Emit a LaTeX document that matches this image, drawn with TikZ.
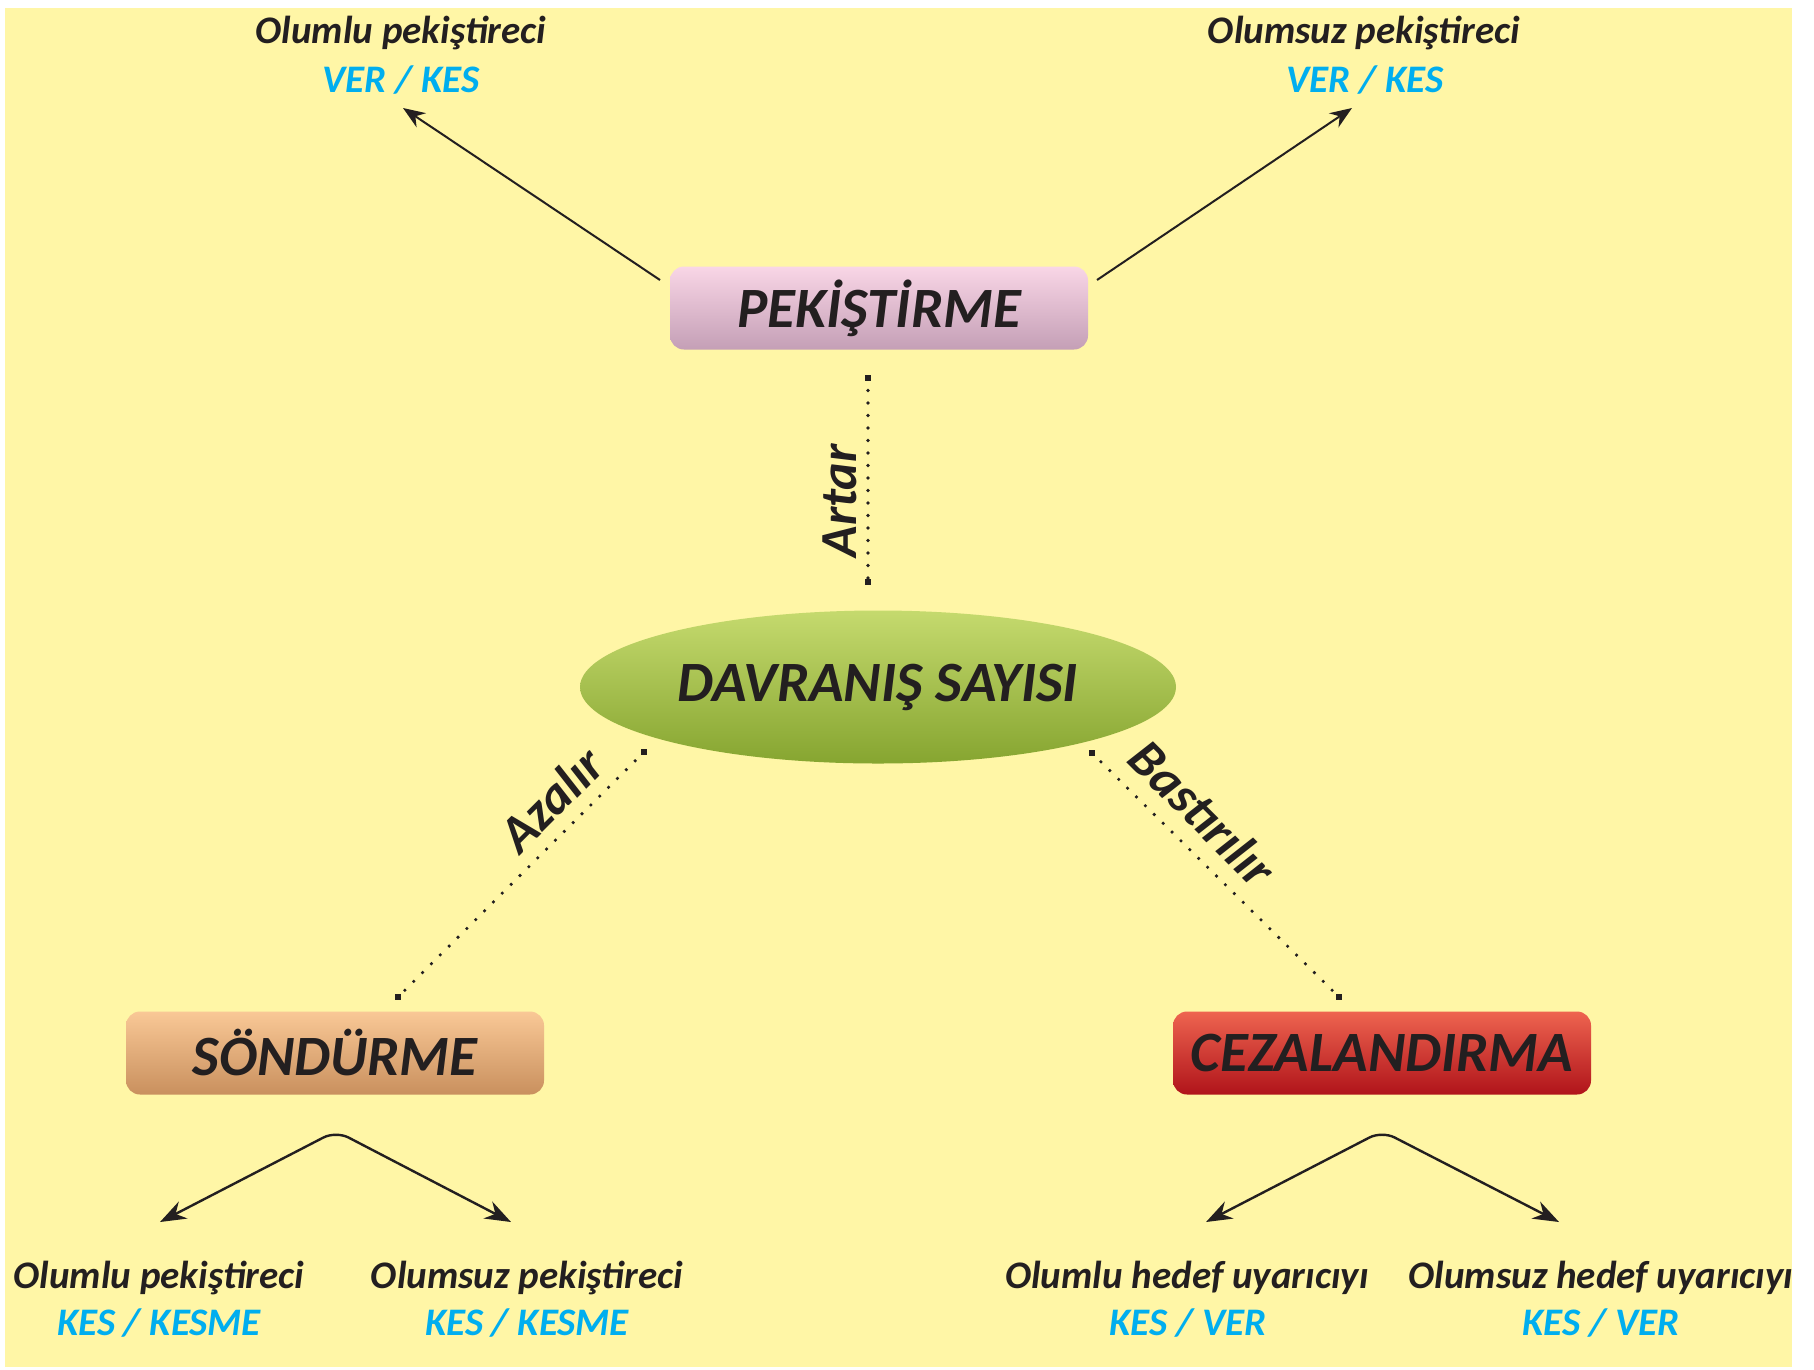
\documentclass[tikz,border=0pt]{standalone}
\usepackage{fontspec}
\setmainfont{Carlito}
\usetikzlibrary{arrows.meta,shapes.geometric}
\definecolor{bgc}{HTML}{FFF6A6}
\definecolor{txt}{HTML}{231F20}
\definecolor{cyn}{HTML}{00AEEF}
\definecolor{pinkT}{HTML}{F9D6E6}
\definecolor{pinkM}{HTML}{EBC3D6}
\definecolor{pinkB}{HTML}{C49FB6}
\definecolor{peachT}{HTML}{F9C896}
\definecolor{peachM}{HTML}{EDB37E}
\definecolor{peachB}{HTML}{C9905E}
\definecolor{redT}{HTML}{EE6450}
\definecolor{redM}{HTML}{E21D26}
\definecolor{redB}{HTML}{B0141A}
\definecolor{grnT}{HTML}{C5DA6E}
\definecolor{grnM}{HTML}{AED23C}
\definecolor{grnB}{HTML}{86A530}
\tikzset{
  boxnode/.style={rounded corners=14pt, minimum width=418pt, minimum height=83pt, inner sep=0pt,
    text=txt, font=\fontsize{57}{62}\selectfont\bfseries\itshape},
  smalltxt/.style={text=txt, font=\fontsize{39}{43}\selectfont\bfseries\itshape, inner sep=0pt, anchor=base},
  bluetxt/.style={text=cyn, font=\fontsize{39}{43}\selectfont\bfseries\itshape, inner sep=0pt, anchor=base},
  rotlabel/.style={text=txt, font=\fontsize{52}{56}\selectfont\bfseries\itshape, inner sep=0pt},
  arr/.style={draw=txt, line width=2pt, -{Stealth[length=22pt,width=17pt]}},
  twoarr/.style={draw=txt, line width=2.4pt, rounded corners=14pt,
    {Stealth[length=26pt,width=19pt]}-{Stealth[length=26pt,width=19pt]}},
  dotline/.style={draw=txt, line width=3.6pt, line cap=round, dash pattern=on 0pt off 12.5pt},
  enddot/.style={fill=txt, minimum size=6pt, inner sep=0pt}
}
\begin{document}
\begin{tikzpicture}[x=1pt,y=-1pt]
\useasboundingbox (0,0) rectangle (1814,1369);
\fill[white] (0,0) rectangle (1814,1369);
\begin{scope}
\clip (5,8) rectangle (1792,1367);
\fill[bgc] (5,8) rectangle (1792,1367);

% main nodes
\node[boxnode, top color=pinkT, middle color=pinkM, bottom color=pinkB] (pek) at (879,308) {PEKİŞTİRME};
\node[boxnode, top color=peachT, middle color=peachM, bottom color=peachB] (son) at (335,1053) {SÖNDÜRME};
\node[boxnode, top color=redT, middle color=redM, bottom color=redB] (cez) at (1382,1053) {CEZALANDIRMA};
\node[ellipse, minimum width=596pt, minimum height=153pt, inner sep=0pt, top color=grnT, middle color=grnM, bottom color=grnB,
  text=txt, font=\fontsize{57}{62}\selectfont\bfseries\itshape] (dav) at (878,687) {DAVRANIŞ SAYISI};

% top labels
\node[smalltxt] (tl1) at (401,43) {Olumlu pekiştireci};
\node[bluetxt] (tl2) at (401,92) {VER / KES};
\node[smalltxt] (tr1) at (1364,43) {Olumsuz pekiştireci};
\node[bluetxt] (tr2) at (1365,92) {VER / KES};

% bottom labels
\node[smalltxt] (bl1) at (159,1288) {Olumlu pekiştireci};
\node[bluetxt] (bl2) at (159,1335) {KES / KESME};
\node[smalltxt] (bm1) at (527,1288) {Olumsuz pekiştireci};
\node[bluetxt] (bm2) at (527,1335) {KES / KESME};
\node[smalltxt] (br1) at (1187,1288) {Olumlu hedef uyarıcıyı};
\node[bluetxt] (br2) at (1188,1335) {KES / VER};
\node[smalltxt] (bz1) at (1601,1288) {Olumsuz hedef uyarıcıyı};
\node[bluetxt] (bz2) at (1601,1335) {KES / VER};

% top arrows
\coordinate (pekL) at (660,280);
\coordinate (pekR) at (1097,280);
\coordinate (tipL) at (403,108);
\coordinate (tipR) at (1352,108);
\draw[arr] (pekL) -- (tipL);
\draw[arr] (pekR) -- (tipR);

% bottom forks
\coordinate (sA) at (336,1131);
\coordinate (sL) at (160,1222);
\coordinate (sR) at (511,1222);
\draw[twoarr] (sL) -- (sA) -- (sR);
\coordinate (cA) at (1382,1131);
\coordinate (cL) at (1206,1222);
\coordinate (cR) at (1559,1222);
\draw[twoarr] (cL) -- (cA) -- (cR);

% dotted links
\coordinate (artTop) at (868,378);
\coordinate (artBot) at (868,582);
\draw[dotline] (artTop) -- (artBot);
\node[enddot] at (artTop) {};
\node[enddot] at (artBot) {};
\node[rotlabel, rotate=90] (artar) at (840,501) {Artar};

\coordinate (azTop) at (644,752);
\coordinate (azBot) at (398,997);
\draw[dotline] (azTop) -- (azBot);
\node[enddot] at (azTop) {};
\node[enddot] at (azBot) {};
\node[rotlabel, rotate=45] (azalir) at (551,799) {Azalır};

\coordinate (bsTop) at (1092,753);
\coordinate (bsBot) at (1339,997);
\draw[dotline] (bsTop) -- (bsBot);
\node[enddot] at (bsTop) {};
\node[enddot] at (bsBot) {};
\node[rotlabel, rotate=-45] (bastir) at (1203,813) {Bastırılır};
\end{scope}
\end{tikzpicture}
\end{document}
